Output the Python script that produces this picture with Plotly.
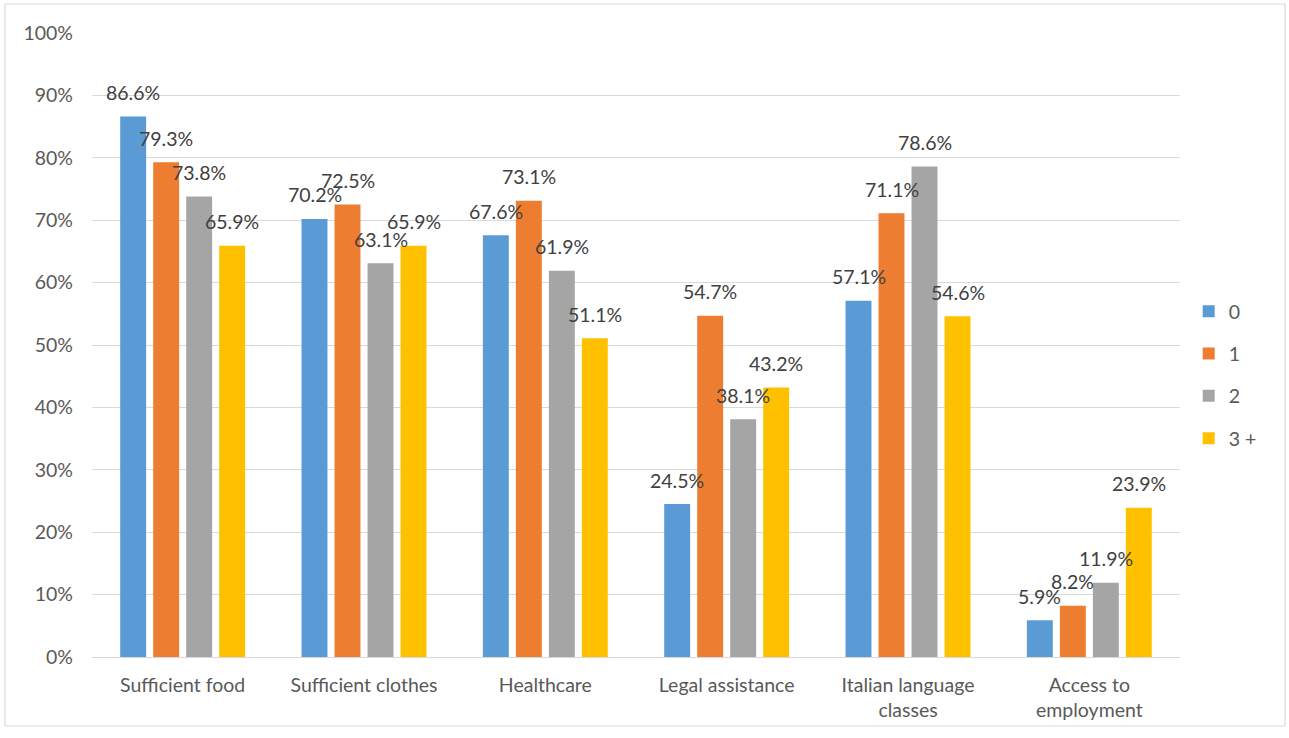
import plotly.graph_objects as go

categories = ["Sufficient food", "Sufficient clothes", "Healthcare",
              "Legal assistance", "Italian language<br>classes", "Access to<br>employment"]
series_names = ["0", "1", "2", "3 +"]
values_0 = [86.6, 70.2, 67.6, 24.5, 57.1, 5.9]
values_1 = [79.3, 72.5, 73.1, 54.7, 71.1, 8.2]
values_2 = [73.8, 63.1, 61.9, 38.1, 78.6, 11.9]
values_3 = [65.9, 65.9, 51.1, 43.2, 54.6, 23.9]
y_ticks = [0, 10, 20, 30, 40, 50, 60, 70, 80, 90, 100]

colors = ["#5B9BD5", "#ED7D31", "#A5A5A5", "#FFC000"]
all_values = [values_0, values_1, values_2, values_3]

FONT = "Lato"
FS = 19.5
bar_w = 0.143
step = 0.182
offsets = [(-1.5 + k) * step for k in range(4)]

fig = go.Figure()
annotations = []
for k, (name, vals, col) in enumerate(zip(series_names, all_values, colors)):
    xs = [i + offsets[k] for i in range(len(categories))]
    fig.add_trace(go.Bar(
        x=xs, y=vals, width=bar_w, name=name, marker_color=col,
        marker_line_width=0, legendgroup=name,
    ))
    for x, v in zip(xs, vals):
        annotations.append(dict(
            x=x, y=v, xref="x", yref="y", text=f"{v}%", showarrow=False,
            yshift=24, font=dict(family=FONT, size=FS, color="#404040"),
        ))

# outer chart frame
fig.add_shape(type="rect", xref="paper", yref="paper",
              x0=-0.080, x1=1.0965, y0=-0.1106, y1=1.0465,
              line=dict(color="#D9D9D9", width=1.2), fillcolor="rgba(0,0,0,0)")

fig.update_layout(
    width=1289, height=738,
    margin=dict(l=92, r=109, t=33, b=81),
    paper_bgcolor="white", plot_bgcolor="white",
    barmode="overlay",
    annotations=annotations,
    showlegend=True,
    legend=dict(x=1.008, y=0.452, xanchor="left", yanchor="middle",
                traceorder="grouped", tracegroupgap=14,
                font=dict(family=FONT, size=FS, color="#595959"),
                itemwidth=30, bgcolor="rgba(0,0,0,0)"),
    font=dict(family=FONT, size=FS, color="#595959"),
)
fig.update_xaxes(
    range=[-0.5, len(categories) - 0.5],
    tickvals=list(range(len(categories))), ticktext=categories,
    showgrid=False, zeroline=False, showline=True, linecolor="#D9D9D9", linewidth=1.2,
    ticks="", ticklabelstandoff=10,
    tickfont=dict(family=FONT, size=FS, color="#595959"),
)
fig.update_yaxes(
    range=[0, 100], tickvals=y_ticks, ticktext=[f"{t}%" for t in y_ticks],
    showgrid=True, gridcolor="#D9D9D9", gridwidth=1.2, zeroline=False,
    showline=False, ticks="", ticklabelstandoff=18,
    tickfont=dict(family=FONT, size=FS, color="#595959"),
)

fig.write_html("out.html")
